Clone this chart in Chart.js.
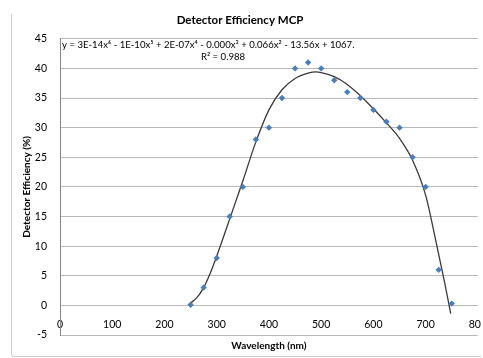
<!DOCTYPE html>
<html>
<head>
<meta charset="utf-8">
<script src="https://cdn.jsdelivr.net/npm/chart.js@4/dist/chart.umd.min.js"></script>
<style>
    html, body { margin: 0; padding: 0; background: #fff; overflow: hidden; }
    #wrap { position: relative; width: 481px; height: 358px; overflow: hidden; }
    #frame {
        position: absolute; left: 11px; top: 14px; width: 520px; height: 342px;
        border-left: 1px solid #cfcfcf; border-bottom: 1px solid #cfcfcf;
        border-bottom-left-radius: 3px; pointer-events: none;
    }
    canvas { position: absolute; left: 0; top: 0; }
</style>
</head>
<body>
<div id="wrap">
    <canvas id="effChart" width="500" height="358"></canvas>
    <div id="frame"></div>
</div>
<script>
// measured points (nm, %)
const wavelengths = [250, 275, 300, 325, 350, 375, 400, 425, 450, 475, 500,
                     525, 550, 575, 600, 625, 650, 675, 700, 725, 750];
const efficiency = [0.1, 3, 8, 15, 20, 28, 30, 35, 40, 41, 40,
                    38, 36, 35, 33, 31, 30, 25, 20, 6, 0.3];

// trendline
const trendX = [250, 262, 275, 287, 300, 325, 350, 375, 400, 425, 450, 475, 490, 500,
                525, 550, 575, 600, 625, 650, 675, 700, 715, 725, 737, 748];
const trendY = [0.4, 1.3, 3.0, 5.3, 8.3, 14.6, 21.0, 27.6, 33.0, 36.4, 38.3, 39.2, 39.4, 39.3,
                38.6, 37.3, 35.4, 33.2, 30.8, 28.2, 24.5, 18.6, 12.8, 8.6, 3.6, -1.4];

const equationText = 'y = 3E-14x\u2076 - 1E-10x\u2075 + 2E-07x\u2074 - 0.000x\u00B3 + 0.066x\u00B2 - 13.56x + 1067.';
const r2Text = 'R\u00B2 = 0.988';

const colors = {
    marker: '#4a7ebb',
    trend: '#3a3a3a',
    grid: '#b8b8b8',
    axis: '#868686',
    text: '#000000'
};
const fontFamily = "Lato, 'Open Sans', sans-serif";

Chart.defaults.font.family = fontFamily;
Chart.defaults.color = colors.text;

// trendline label
const trendLabel = {
    id: 'trendLabel',
    afterDatasetsDraw(chart) {
        const ctx = chart.ctx;
        ctx.save();
        ctx.fillStyle = colors.text;
        ctx.font = '9.6px ' + fontFamily;
        ctx.textBaseline = 'middle';
        ctx.textAlign = 'left';
        ctx.fillText(equationText, 62, 45);
        ctx.textAlign = 'center';
        ctx.fillText(r2Text, 223, 57);
        ctx.restore();
    }
};

new Chart(document.getElementById('effChart'), {
    type: 'scatter',
    data: {
        datasets: [{
            label: 'Efficiency',
            data: wavelengths.map((x, i) => ({ x: x, y: efficiency[i] })),
            pointStyle: 'rectRot',
            pointRadius: 3.2,
            backgroundColor: colors.marker,
            borderColor: colors.marker,
            borderWidth: 0,
            order: 1
        }, {
            label: 'Poly. (Efficiency)',
            data: trendX.map((x, i) => ({ x: x, y: trendY[i] })),
            showLine: true,
            cubicInterpolationMode: 'monotone',
            pointRadius: 0,
            borderColor: colors.trend,
            borderWidth: 1.3,
            fill: false,
            order: 2
        }]
    },
    options: {
        responsive: false,
        animation: false,
        events: [],
        layout: { padding: { left: 0, right: 20, top: 0, bottom: 23 } },
        plugins: {
            legend: { display: false },
            tooltip: { enabled: false },
            title: {
                display: true,
                text: 'Detector Efficiency MCP',
                color: colors.text,
                font: { size: 11.5, weight: 'bold' },
                padding: { top: 13, bottom: 12 }
            }
        },
        scales: {
            x: {
                type: 'linear',
                position: { y: 0 },
                min: 0,
                max: 800,
                grid: { display: false, drawTicks: false },
                border: { display: false },
                ticks: { stepSize: 100, padding: 13, maxRotation: 0, font: { size: 10.5 }, color: colors.text },
                title: {
                    display: true,
                    text: 'Wavelength (nm)',
                    font: { size: 10, weight: 'bold' },
                    padding: { top: 0, bottom: -20 }
                },
                afterFit(scale) { scale.height = 26; }
            },
            y: {
                min: -5,
                max: 45,
                grid: { color: colors.grid, drawTicks: false },
                border: { display: true, color: colors.axis },
                ticks: { stepSize: 5, padding: 13, font: { size: 10.5 }, color: colors.text },
                title: {
                    display: true,
                    text: 'Detector Efficiency (%)',
                    font: { size: 10, weight: 'bold' },
                    padding: { top: 21, bottom: 0 }
                },
                afterFit(scale) { scale.width = 60; }
            }
        }
    },
    plugins: [trendLabel]
});
</script>
</body>
</html>
